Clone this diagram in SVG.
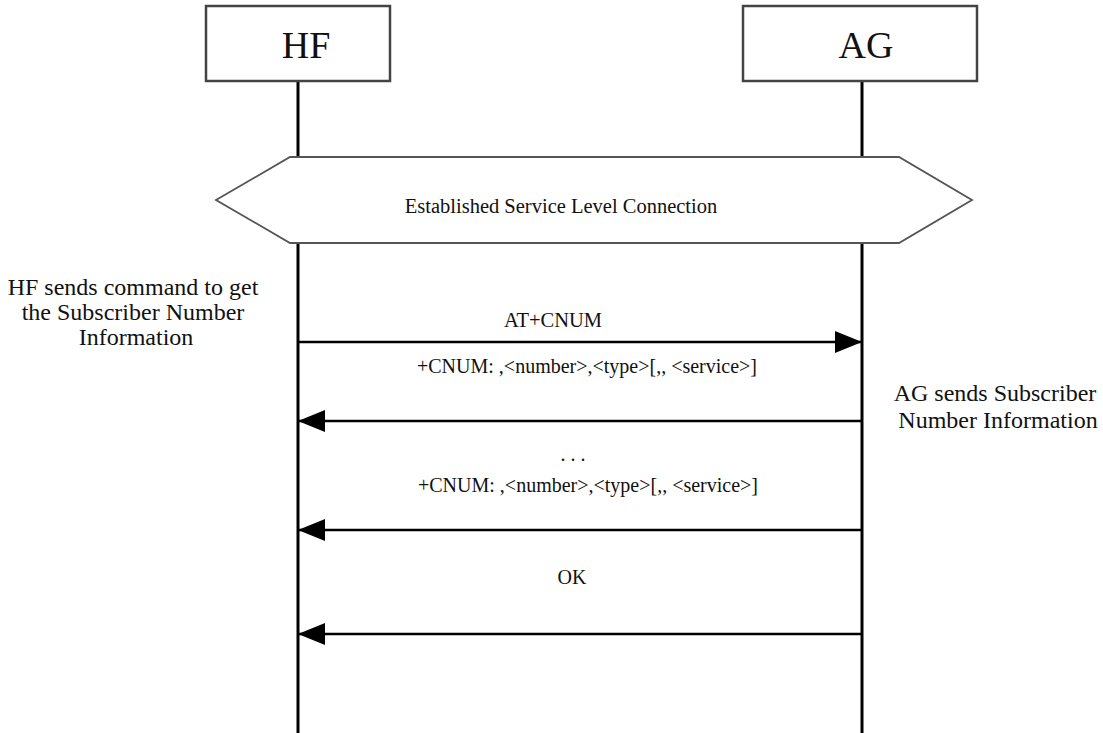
<svg xmlns="http://www.w3.org/2000/svg" width="1103" height="733" viewBox="0 0 1103 733">
<style>
  .t { font-family: "Liberation Serif", "Times New Roman", serif; fill: #111; }
  .box { fill: #fff; stroke: #444; stroke-width: 2.5; }
  .life { stroke: #000; stroke-width: 3; }
  .msg { stroke: #000; stroke-width: 2.5; fill: none; }
  .hex { fill: #fff; stroke: #555; stroke-width: 1.8; }
</style>
<defs>
  <marker id="ah" viewBox="0 0 27 22" refX="27" refY="11" markerWidth="27" markerHeight="22" markerUnits="userSpaceOnUse" orient="auto">
    <path d="M0,0 L27,11 L0,22 Z" fill="#000"/>
  </marker>
</defs>
<rect width="1103" height="733" fill="#fff"/>
<g id="lifelines">
  <line class="life" x1="298" y1="81" x2="298" y2="733"/>
  <line class="life" x1="862" y1="81" x2="862" y2="733"/>
</g>
<g id="HF">
  <rect class="box" x="206" y="6" width="184" height="75"/>
  <text class="t" x="306" y="58" font-size="38" text-anchor="middle">HF</text>
</g>
<g id="AG">
  <rect class="box" x="743" y="6" width="234" height="75"/>
  <text class="t" x="866" y="58" font-size="38" text-anchor="middle">AG</text>
</g>
<g id="slc">
  <polygon class="hex" points="216,200 290,157 899,157 972,200 899,243 290,243"/>
  <text class="t" x="561" y="213" font-size="20.5" text-anchor="middle">Established Service Level Connection</text>
</g>
<g id="note-hf">
  <text class="t" font-size="24" text-anchor="middle">
    <tspan x="136" y="295">HF sends command to get</tspan>
    <tspan x="136" y="320">the Subscriber Number</tspan>
    <tspan x="136" y="345">Information</tspan>
  </text>
</g>
<g id="note-ag">
  <text class="t" font-size="24" text-anchor="middle">
    <tspan x="998" y="401">AG sends Subscriber</tspan>
    <tspan x="998" y="428">Number Information</tspan>
  </text>
</g>
<g id="connectors">
  <line class="msg" x1="298" y1="342" x2="862" y2="342" marker-end="url(#ah)"/>
  <line class="msg" x1="862" y1="421" x2="298" y2="421" marker-end="url(#ah)"/>
  <line class="msg" x1="862" y1="530" x2="298" y2="530" marker-end="url(#ah)"/>
  <line class="msg" x1="862" y1="634" x2="298" y2="634" marker-end="url(#ah)"/>
</g>
<g id="labels">
  <text class="t" x="553" y="327" font-size="20.5" text-anchor="middle">AT+CNUM</text>
  <text class="t" x="587" y="373" font-size="20" text-anchor="middle">+CNUM: ,&lt;number&gt;,&lt;type&gt;[,, &lt;service&gt;]</text>
  <text class="t" x="573" y="461" font-size="20" text-anchor="middle">. . .</text>
  <text class="t" x="588" y="492" font-size="20" text-anchor="middle">+CNUM: ,&lt;number&gt;,&lt;type&gt;[,, &lt;service&gt;]</text>
  <text class="t" x="572" y="584" font-size="20" text-anchor="middle">OK</text>
</g>
</svg>
